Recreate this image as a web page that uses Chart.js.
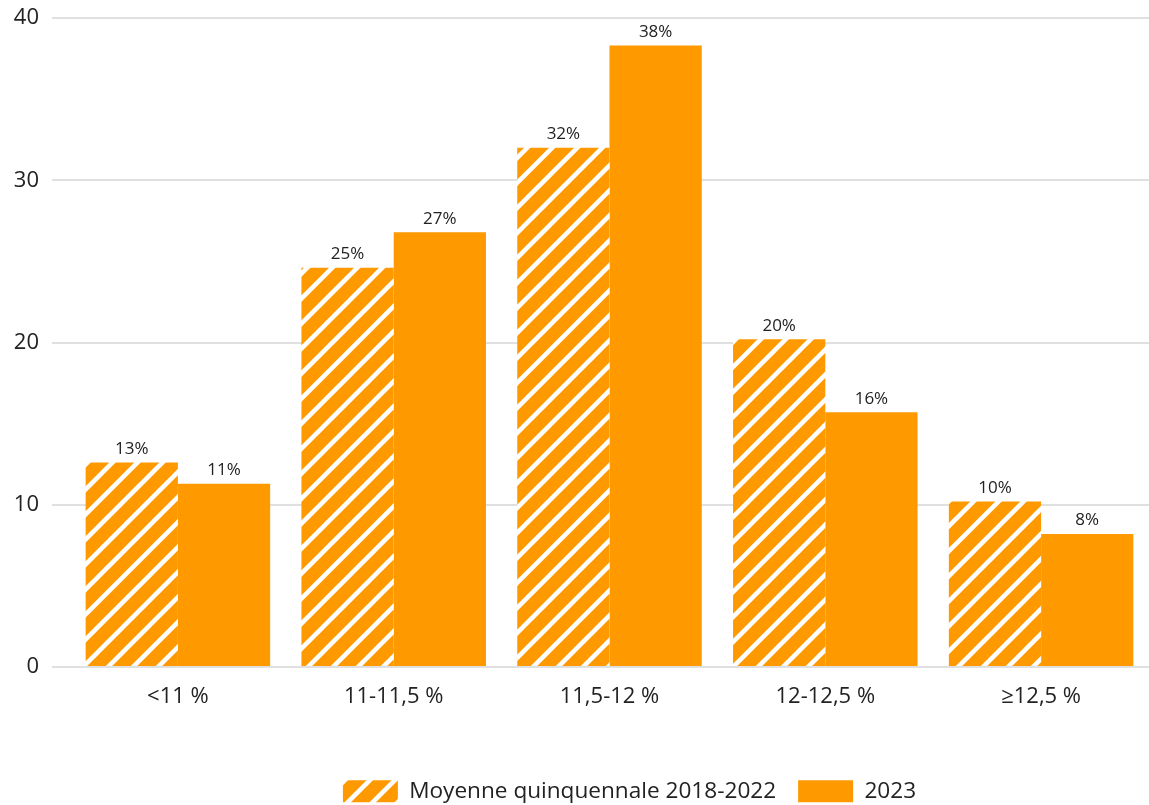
<!DOCTYPE html>
<html>
<head>
<meta charset="utf-8">
<script src="https://cdn.jsdelivr.net/npm/chart.js@4.4.0/dist/chart.umd.min.js"></script>
<style>
html,body{margin:0;padding:0;background:#fff;}
#wrap{width:1149px;height:805px;position:relative;}
</style>
</head>
<body>
<div id="wrap"><canvas id="c" width="1149" height="805"></canvas></div>
<script>
const categories = ['<11 %', '11-11,5 %', '11,5-12 %', '12-12,5 %', '≥12,5 %'];
const seriesNames = ['Moyenne quinquennale 2018-2022', '2023'];
const avgValues = [12.6, 24.6, 32.0, 20.2, 10.2];
const values2023 = [11.3, 26.8, 38.3, 15.7, 8.2];
const yTicks = [0, 10, 20, 30, 40];

const ORANGE = '#FF9900';
const FONT = '"Open Sans"';

function makeHatch() {
  const s = 25;
  const c = document.createElement('canvas');
  c.width = s; c.height = s;
  const x = c.getContext('2d');
  x.fillStyle = ORANGE;
  x.fillRect(0, 0, s, s);
  x.strokeStyle = '#ffffff';
  x.lineWidth = 4.5;
  x.beginPath();
  x.moveTo(-s, s); x.lineTo(s, -s);
  x.moveTo(0, s); x.lineTo(s, 0);
  x.moveTo(0, 2*s); x.lineTo(2*s, 0);
  x.stroke();
  return x.createPattern(c, 'repeat');
}
const ctx = document.getElementById('c').getContext('2d');
const hatch = makeHatch();

const labelPlugin = {
  id: 'barLabels',
  afterLayout(chart) {
    const lg = chart.legend;
    if (lg) { lg.left += 55; lg.right += 55; }
  },
  afterDatasetsDraw(chart) {
    const c = chart.ctx;
    c.save();
    c.font = '17px ' + FONT;
    c.fillStyle = '#222';
    c.textAlign = 'center';
    c.textBaseline = 'bottom';
    chart.data.datasets.forEach((ds, i) => {
      const meta = chart.getDatasetMeta(i);
      meta.data.forEach((bar, j) => {
        c.fillText(Math.round(ds.data[j]) + '%', bar.x, bar.y - 5);
      });
    });
    c.restore();
  }
};

new Chart(ctx, {
  type: 'bar',
  data: {
    labels: categories,
    datasets: [
      { label: seriesNames[0], data: avgValues, backgroundColor: hatch, borderWidth: 0,
        categoryPercentage: 0.855, barPercentage: 1.0 },
      { label: seriesNames[1], data: values2023, backgroundColor: ORANGE, borderWidth: 0,
        categoryPercentage: 0.855, barPercentage: 1.0 }
    ]
  },
  options: {
    responsive: false,
    animation: false,
    layout: { padding: { left: 0, right: 0, top: 18, bottom: 0 } },
    plugins: {
      legend: {
        position: 'bottom',
        maxHeight: 47,
        labels: {
          font: { family: FONT, size: 22.6 },
          color: '#222',
          boxWidth: 55,
          boxHeight: 22,
          padding: 22
        }
      },
      tooltip: { enabled: false }
    },
    scales: {
      x: {
        grid: { display: false },
        border: { display: false },
        afterFit(axis) { axis.height = 91; },
        ticks: { font: { family: FONT, size: 22 }, color: '#222', padding: 9 }
      },
      y: {
        min: 0, max: 40,
        afterBuildTicks(axis) { axis.ticks = yTicks.map(v => ({ value: v })); },
        afterFit(axis) { axis.width = 70; axis.paddingTop = 0; axis.paddingBottom = 0; },
        border: { display: false },
        grid: { color: '#e0e0e0', lineWidth: 2, tickLength: 18, tickColor: '#e0e0e0' },
        ticks: { font: { family: FONT, size: 22 }, color: '#222', padding: 13 }
      }
    }
  },
  plugins: [labelPlugin]
});
</script>
</body>
</html>
